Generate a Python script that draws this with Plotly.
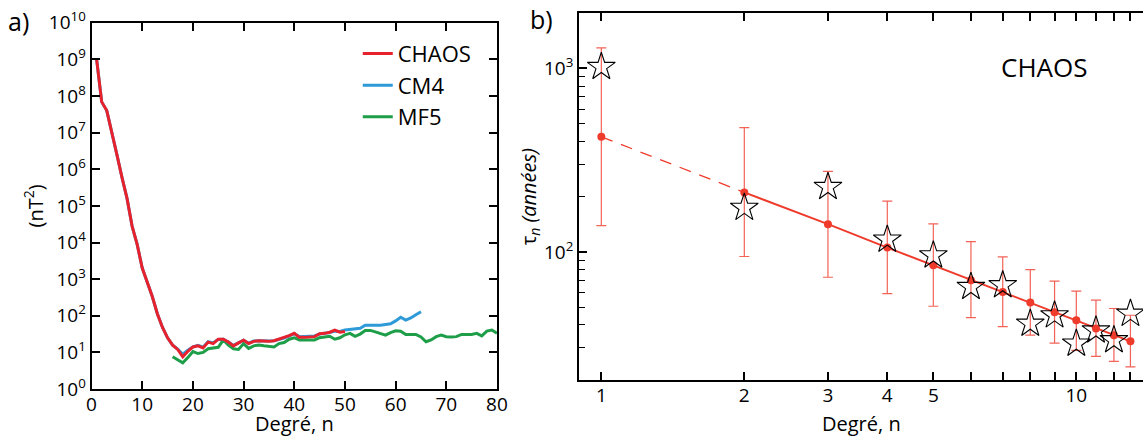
import plotly.graph_objects as go

# ---------------- Panel a: spatial power spectra (nT^2) ----------------
chaos_deg = list(range(1, 51))
chaos_pow = [1.0e9, 6.9e7, 4.0e7, 1.1e7, 2.5e6, 6.0e5, 1.6e5, 2.8e4, 8.9e3, 2.0e3,
             850, 330, 112, 48, 25, 15.8, 12.0, 7.6, 10.7, 14.1,
             15.1, 13.2, 19.1, 17.4, 22.9, 22.9, 19.1, 15.1, 18.2, 21.4,
             17.4, 20.0, 20.9, 20.4, 20.0, 20.9, 22.9, 25.1, 28.8, 33.1,
             25.7, 25.7, 26.3, 26.9, 32.4, 33.1, 35.5, 40.7, 35.5, 37.2]

cm4_deg = list(range(1, 66))
cm4_pow = [1.0e9, 6.9e7, 4.0e7, 1.1e7, 2.5e6, 6.0e5, 1.6e5, 2.8e4, 8.9e3, 2.0e3,
           850, 330, 112, 48, 25, 15.8, 12.3, 8.9, 11.5, 14.1,
           15.5, 13.8, 19.5, 18.2, 22.4, 22.9, 19.1, 15.5, 18.2, 21.4,
           17.8, 20.4, 20.9, 20.4, 20.4, 20.9, 22.4, 24.5, 28.2, 32.4,
           26.9, 27.5, 27.5, 28.2, 31.6, 32.4, 34.7, 38.0, 37.2, 40.7,
           41.7, 43.7, 45.7, 55.0, 55.0, 52.5, 55.0, 57.5, 60.3, 72.4,
           91.2, 75.9, 87.1, 107, 129]

mf5_deg = list(range(16, 81))
mf5_pow = [7.6, 6.3, 5.2, 7.2, 10.5, 9.3, 10.0, 12.6, 13.5, 13.8,
           21.9, 15.8, 12.6, 12.0, 17.4, 12.9, 15.1, 15.8, 15.1, 14.5,
           14.1, 17.4, 18.6, 22.9, 25.1, 21.9, 21.4, 21.9, 21.9, 25.1,
           26.3, 27.5, 22.9, 25.1, 30.2, 33.1, 27.5, 31.6, 39.8, 39.8,
           36.3, 33.1, 29.5, 34.7, 38.9, 38.0, 30.9, 30.9, 30.9, 26.3,
           19.5, 21.9, 26.9, 29.5, 26.9, 26.3, 26.9, 30.9, 30.9, 30.9,
           33.1, 28.2, 38.0, 40.7, 33.1]

a_ytickvals = [1, 10, 100, 1e3, 1e4, 1e5, 1e6, 1e7, 1e8, 1e9, 1e10]
a_yticktext = ["10<sup>%d</sup>" % k for k in range(11)]
a_xtickvals = [0, 10, 20, 30, 40, 50, 60, 70, 80]

# ---------------- Panel b: time scales tau_n (années) ----------------
degree = list(range(1, 14))
tau_fit = [424, 211, 141.6, 105.5, 84.5, 70.0, 60.4, 52.9, 46.9, 42.3, 38.2, 35.1, 32.5]
tau_upper = [1295, 476, 275, 189, 142, 113.8, 93.8, 80.0, 69.2, 61.0, 54.5, 49.1, 45.1]
tau_lower = [139, 94.3, 72.7, 59.2, 50.5, 43.8, 39.1, 35.1, 31.8, 29.0, 26.9, 25.3, 23.6]
tau_stars = [1020, 174, 226, 116.7, 95.7, 64.4, 65.8, 40.6, 45.1, 31.6, 37.3, 33.0, 46.0]

b_xtickvals = [1, 2, 3, 4, 5, 10]
b_xminor = [6, 7, 8, 9, 11, 12, 13]
b_ytickvals = [100, 1000]
b_yticktext = ["10<sup>2</sup>", "10<sup>3</sup>"]
b_yminor = [30, 40, 50, 60, 70, 80, 90, 200, 300, 400, 500, 600, 700, 800, 900]

RED = "#E8222D"
BLUE = "#2E9AD8"
GREEN = "#1E9E48"
FIT = "#EF3B2C"
FONT = "Open Sans"

fig = go.Figure()

fig.add_trace(go.Scatter(x=mf5_deg, y=mf5_pow, mode="lines", name="MF5",
                         line=dict(color=GREEN, width=3), legendrank=3,
                         xaxis="x", yaxis="y"))
fig.add_trace(go.Scatter(x=cm4_deg, y=cm4_pow, mode="lines", name="CM4",
                         line=dict(color=BLUE, width=3), legendrank=2,
                         xaxis="x", yaxis="y"))
fig.add_trace(go.Scatter(x=chaos_deg, y=chaos_pow, mode="lines", name="CHAOS",
                         line=dict(color=RED, width=3), legendrank=1,
                         xaxis="x", yaxis="y"))

# panel b
fig.add_trace(go.Scatter(x=degree[:2], y=tau_fit[:2], mode="lines", showlegend=False,
                         line=dict(color=FIT, width=1.3, dash="12px,9px"),
                         xaxis="x2", yaxis="y2"))
fig.add_trace(go.Scatter(x=degree[1:], y=tau_fit[1:], mode="lines", showlegend=False,
                         line=dict(color=FIT, width=2),
                         xaxis="x2", yaxis="y2"))
fig.add_trace(go.Scatter(
    x=degree, y=tau_fit, mode="markers", showlegend=False,
    marker=dict(color=FIT, size=8),
    error_y=dict(type="data", symmetric=False,
                 array=[u - v for u, v in zip(tau_upper, tau_fit)],
                 arrayminus=[v - l for v, l in zip(tau_fit, tau_lower)],
                 color="rgba(239,59,44,0.8)", thickness=1.2, width=5),
    xaxis="x2", yaxis="y2"))
fig.add_trace(go.Scatter(x=degree, y=tau_stars, mode="markers", showlegend=False,
                         marker=dict(symbol="star-open", size=21, color="black",
                                     line=dict(width=1.1, color="black")),
                         xaxis="x2", yaxis="y2"))

axis_common = dict(showgrid=False, zeroline=False, linecolor="black", linewidth=2,
                   ticks="inside", tickcolor="black", tickwidth=1.5, ticklen=8,
                   automargin=False,
                   tickfont=dict(family=FONT, size=19, color="black"))

title_font = dict(family=FONT, size=20, color="black")

fig.update_layout(
    width=1143, height=437,
    margin=dict(l=0, r=0, t=0, b=0, autoexpand=False),
    paper_bgcolor="white", plot_bgcolor="white",
    font=dict(family=FONT, size=20, color="black"),
    showlegend=True,
    legend=dict(x=0.313, y=0.925, xanchor="left", yanchor="top",
                bgcolor="rgba(0,0,0,0)", font=dict(family=FONT, size=22, color="black"),
                itemwidth=30, tracegroupgap=0),
    xaxis=dict(domain=[0.0801, 0.4348], range=[0, 80], tickvals=a_xtickvals,
               mirror="ticks", anchor="y", ticklabelstandoff=-3, **axis_common),
    yaxis=dict(domain=[0.1098, 0.948], type="log", range=[0, 10],
               tickvals=a_ytickvals, ticktext=a_yticktext, mirror="ticks", anchor="x",
               title=dict(text="(nT<sup>2</sup>)", font=title_font, standoff=0),
               **axis_common),
    xaxis2=dict(domain=[0.5066, 1.0], type="log", range=[-0.0469, 1.1404],
                tickvals=b_xtickvals, ticktext=[str(v) for v in b_xtickvals],
                minor=dict(tickvals=b_xminor, ticks="inside", ticklen=8,
                           tickcolor="black", tickwidth=1.5),
                mirror="ticks", anchor="y2", ticklabelstandoff=-3, **axis_common),
    yaxis2=dict(domain=[0.1304, 0.9696], type="log", range=[1.301, 3.301],
                tickvals=b_ytickvals, ticktext=b_yticktext, anchor="x2",
                minor=dict(tickvals=b_yminor, ticks="inside", ticklen=6,
                           tickcolor="black", tickwidth=1.2),
                title=dict(text="τ<sub><i>n</i></sub> <i>(années)</i>",
                           font=title_font, standoff=0),
                **axis_common),
    annotations=[
        dict(text="Degré, n", x=0.5, y=0.031, xref="x domain", yref="paper",
             xanchor="center", yanchor="middle", showarrow=False, font=title_font),
        dict(text="Degré, n", x=0.5, y=0.031, xref="x2 domain", yref="paper",
             xanchor="center", yanchor="middle", showarrow=False, font=title_font),
        dict(text="a)", x=0.005, y=0.952, xref="paper", yref="paper",
             xanchor="left", yanchor="middle", showarrow=False,
             font=dict(family=FONT, size=25, color="black")),
        dict(text="b)", x=0.462, y=0.956, xref="paper", yref="paper",
             xanchor="left", yanchor="middle", showarrow=False,
             font=dict(family=FONT, size=25, color="black")),
        dict(text="CHAOS", x=0.9134, y=0.847, xref="paper", yref="paper",
             xanchor="center", yanchor="middle", showarrow=False,
             font=dict(family=FONT, size=26, color="black")),
    ],
)

fig.write_html("out.html")
